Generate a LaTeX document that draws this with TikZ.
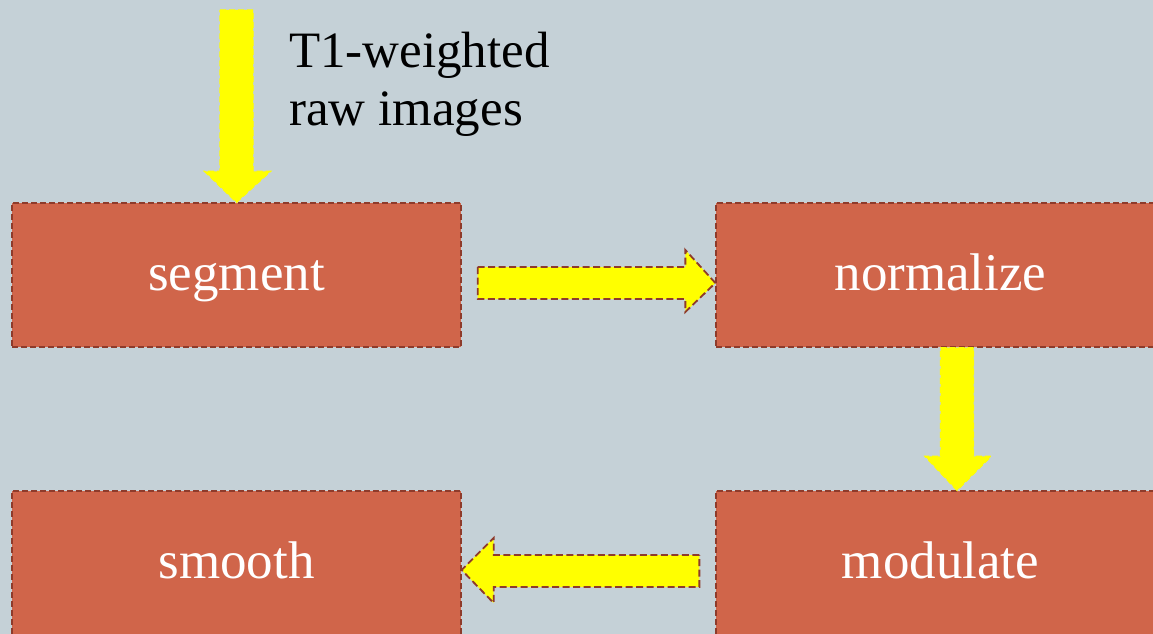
\documentclass[tikz,border=0pt]{standalone}
\usepackage{fontspec}
\setmainfont{Liberation Serif}
\usetikzlibrary{calc}
\definecolor{bg}{HTML}{C5D1D7}
\definecolor{boxfill}{HTML}{D0654A}
\definecolor{boxline}{HTML}{8E3B2B}
\definecolor{arrowyellow}{HTML}{FFFF00}
\tikzset{
  stagebox/.style={draw=boxline, fill=boxfill, dash pattern=on 6pt off 3pt,
    line width=1.3pt, minimum width=449pt, minimum height=144pt, inner sep=0pt,
    text height=40pt, text depth=10pt,
    text=white, font=\fontsize{53}{60}\selectfont},
  vblock/.style={fill=arrowyellow, draw=arrowyellow, line width=1.3pt, dash pattern=on 6pt off 3pt},
  hblock/.style={fill=arrowyellow, draw=boxline, line width=1.8pt, dash pattern=on 7pt off 3.5pt},
  lbl/.style={font=\fontsize{51}{58}\selectfont, align=left, anchor=north west, inner sep=0pt,
    text=black}
}
\begin{document}
\begin{tikzpicture}[x=1pt,y=-1pt]
\useasboundingbox (0,0) rectangle (1153,634);
\clip (0,0) rectangle (1153,634);
\fill[bg] (0,0) rectangle (1153,634);
\node[stagebox] (seg) at (236.5,275) {segment};
\node[stagebox] (norm) at (940.5,275) {normalize};
\node[stagebox] (smooth) at (236.5,563) {smooth};
\node[stagebox] (mod) at (940.5,563) {modulate};
\coordinate (src) at (236.5,10);
% top input arrow
\draw[vblock] ($(src)+(-16.5,0)$) -- ($(src)+(16.5,0)$) -- ($(seg.north)+(16.5,-31)$) -- ($(seg.north)+(34,-31)$)
  -- (seg.north) -- ($(seg.north)+(-32,-31)$) -- ($(seg.north)+(-16.5,-31)$) -- cycle;
% segment -> normalize
\draw[hblock] ($(seg.east)+(16,-8)$) -- ($(norm.west)+(-30,-8)$) -- ($(norm.west)+(-30,-25)$) -- ($(norm.west)+(0,8)$)
  -- ($(norm.west)+(-30,37)$) -- ($(norm.west)+(-30,24)$) -- ($(seg.east)+(16,24)$) -- cycle;
% normalize -> modulate
\draw[vblock] ($(norm.south)+(0,0)$) -- ($(norm.south)+(33,0)$) -- ($(mod.north)+(33,-34)$) -- ($(mod.north)+(50.5,-34)$)
  -- ($(mod.north)+(16.5,0)$) -- ($(mod.north)+(-15.5,-34)$) -- ($(mod.north)+(0,-34)$) -- cycle;
% modulate -> smooth
\draw[hblock] ($(mod.west)+(-16,-8)$) -- ($(smooth.east)+(32,-8)$) -- ($(smooth.east)+(32,-25)$) -- ($(smooth.east)+(0,7)$)
  -- ($(smooth.east)+(32,40)$) -- ($(smooth.east)+(32,24)$) -- ($(mod.west)+(-16,24)$) -- cycle;
\node[lbl] (raw) at (289,32) {T1-weighted\\raw images};
\end{tikzpicture}
\end{document}
